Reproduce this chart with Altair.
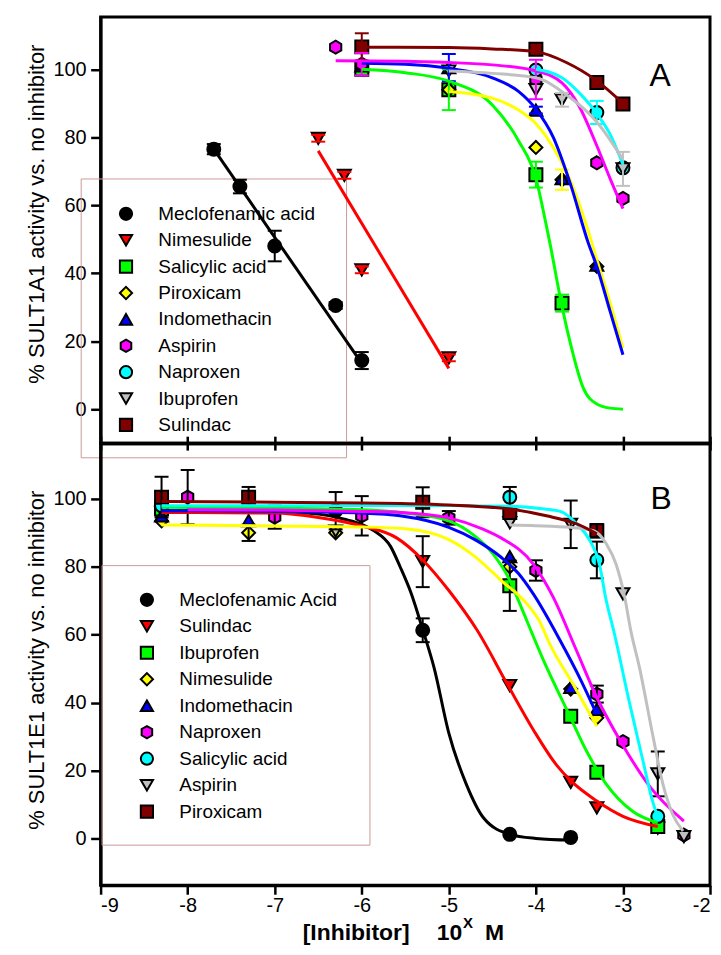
import altair as alt
import pandas as pd

FONT = "Liberation Sans"
HEX = "M0,-1L0.866,-0.5L0.866,0.5L0,1L-0.866,0.5L-0.866,-0.5Z"

colors = ["#000000", "#ff0000", "#00ff00", "#ffff00", "#0000ff",
          "#ff00ff", "#00ffff", "#c0c0c0", "#800000"]
shapes = ["circle", "triangle-down", "square", "diamond", "triangle-up",
          HEX, "circle", "triangle-down", "square"]
keys = ["s0", "s1", "s2", "s3", "s4", "s5", "s6", "s7", "s8"]

top_names = ["Meclofenamic acid", "Nimesulide", "Salicylic acid", "Piroxicam",
             "Indomethacin", "Aspirin", "Naproxen", "Ibuprofen", "Sulindac"]
bot_names = ["Meclofenamic Acid", "Sulindac", "Ibuprofen", "Nimesulide",
             "Indomethacin", "Naproxen", "Salicylic acid", "Aspirin", "Piroxicam"]

x_ticks = [-9, -8, -7, -6, -5, -4, -3, -2]
y_ticks = [0, 20, 40, 60, 80, 100]

# ---------------- Panel A (SULT1A1): measured points ----------------
top_pts = {
    "Meclofenamic acid": ([-7.7, -7.4, -7.0, -6.3, -6.0], [76.5, 65.5, 48.0, 30.5, 14.3], [1.5, 2, 4.5, 1, 2.5]),
    "Nimesulide": ([-6.5, -6.2, -6.0, -5.0], [79.7, 68.8, 41.0, 15.1], [1, 1, 1, 1]),
    "Salicylic acid": ([-6.0, -5.0, -4.0, -3.7], [100, 94, 69, 31.2], [0, 6, 3.8, 2.5]),
    "Piroxicam": ([-5.0, -4.0, -3.7, -3.3], [94, 77, 67.5, 42], [0, 0, 3, 0]),
    "Indomethacin": ([-6.0, -5.0, -4.0, -3.7, -3.3], [101, 100.5, 88, 67.8, 42.4], [0, 4, 1, 0, 0]),
    "Aspirin": ([-6.3, -6.0, -4.0, -3.3, -3.0], [106.5, 101.5, 97, 72.5, 62], [0, 3.3, 5.8, 0, 0]),
    "Naproxen": ([-4.0, -3.3, -3.0], [99.8, 87.3, 71], [0, 3.4, 0]),
    "Ibuprofen": ([-5.0, -4.0, -3.7, -3.0], [99.5, 94, 91, 70.7], [0, 0, 2, 5]),
    "Sulindac": ([-6.0, -4.0, -3.3, -3.0], [106.6, 105.9, 96.1, 89.8], [4, 0, 0, 0]),
}
# fitted curves
top_curves = {
    "Meclofenamic acid": ([-7.7, -6.0], [76.5, 13.5]),
    "Nimesulide": ([-6.5, -5.0], [76, 12]),
    "Salicylic acid": ([-6.0, -5.5, -5.0, -4.5, -4.2, -4.0, -3.88, -3.84, -3.71, -3.61, -3.46, -3.3, -3.15, -3.0],
                       [100, 99, 96.5, 89.5, 79, 68, 54, 49, 31.5, 20, 6.5, 1.5, 0.3, 0]),
    "Piroxicam": ([-5.0, -4.5, -4.2, -4.0, -3.8, -3.6, -3.4, -3.3, -3.15, -3.0],
                  [93.5, 91.5, 88, 84, 77, 67, 52.5, 44, 31.5, 18]),
    "Indomethacin": ([-6.0, -5.5, -5.0, -4.5, -4.2, -4.0, -3.8, -3.6, -3.4, -3.3, -3.15, -3.0],
                     [101.8, 101.5, 100.3, 97.5, 93.5, 88.3, 80, 66, 49, 42, 29, 16]),
    "Aspirin": ([-6.3, -5.5, -5.0, -4.5, -4.0, -3.7, -3.5, -3.3, -3.15, -3.0],
                [102.5, 102.4, 102, 101.3, 99.5, 96, 89, 77.5, 68, 59]),
    "Naproxen": ([-4.0, -3.7, -3.5, -3.3, -3.15, -3.0], [100, 97.5, 93, 87, 81, 72]),
    "Ibuprofen": ([-5.0, -4.5, -4.0, -3.65, -3.3, -3.0], [99.5, 98.8, 97.5, 92.5, 84.5, 73.5]),
    "Sulindac": ([-6.0, -5.0, -4.5, -4.0, -3.65, -3.3, -3.0], [106.5, 106.4, 106, 105.2, 102, 96.6, 90]),
}

# ---------------- Panel B (SULT1E1) ----------------
bot_pts = {
    "Meclofenamic Acid": ([-8.3, -6.3, -5.3, -4.3, -3.6], [96, 96.5, 61.3, 1.2, 0.3], [0, 5.5, 3.5, 0, 0]),
    "Sulindac": ([-8.3, -5.3, -4.3, -3.6, -3.3, -2.6], [96, 81.5, 45, 16.5, 9, 3], [0, 7.5, 0, 0, 0, 0]),
    "Ibuprofen": ([-8.3, -4.3, -3.6, -3.3, -2.6], [97, 74.4, 36, 19.5, 3.5], [0, 7.4, 0, 0, 0]),
    "Nimesulide": ([-8.3, -7.3, -6.3, -4.3, -3.6, -3.3], [93.5, 90, 90, 80, 44, 35.5], [0, 2.4, 0, 0, 0, 0]),
    "Indomethacin": ([-8.3, -7.3, -4.3, -3.6, -3.3], [95, 93.6, 83, 44.5, 38], [0, 0, 0, 0, 0]),
    "Naproxen": ([-8.0, -7.0, -6.0, -5.0, -4.0, -3.3, -3.0, -2.3], [100.5, 94.6, 95, 94.4, 78.9, 42.5, 28.5, 1],
                 [8, 3.4, 5.8, 2, 3, 2.5, 0, 0]),
    "Salicylic acid": ([-8.3, -4.3, -3.3, -2.6], [98, 100.5, 82, 6.5], [0, 3, 5.4, 0]),
    "Aspirin": ([-6.3, -4.3, -3.6, -3.0, -2.6, -2.3], [90.5, 93, 92.5, 72, 19, 0.5], [0, 0, 7, 0, 6.6, 0]),
    "Piroxicam": ([-8.3, -7.3, -5.3, -4.3, -3.3], [100.5, 100.5, 99, 96, 90.6], [6, 3, 4.4, 0, 2]),
}
bot_curves = {
    "Meclofenamic Acid": ([-8.3, -7.0, -6.5, -6.2, -6.0, -5.86, -5.67, -5.56, -5.43, -5.3, -5.17, -5.0, -4.8, -4.6, -4.3, -4.0, -3.6],
                          [96.5, 96.2, 95.5, 94, 92.5, 90.6, 86, 80, 72, 61.5, 50.3, 31, 16, 6, 1.2, 0, -0.5]),
    "Sulindac": ([-8.3, -7.0, -6.5, -6.0, -5.6, -5.3, -5.0, -4.68, -4.32, -4.03, -3.76, -3.6, -3.3, -3.0, -2.6],
                 [96, 95.8, 94.5, 92, 88.5, 82, 73, 61.5, 45, 32, 21.5, 17, 11, 6.5, 3.5]),
    "Ibuprofen": ([-8.3, -7.0, -6.0, -5.5, -5.0, -4.7, -4.5, -4.3, -4.2, -3.91, -3.61, -3.42, -3.19, -2.89, -2.6],
                  [97.5, 97.3, 96.8, 95.8, 93.5, 89, 84, 76, 70, 52.3, 36, 25.8, 15.9, 8, 4.6]),
    "Nimesulide": ([-8.3, -7.0, -6.0, -5.5, -5.0, -4.7, -4.4, -4.1, -3.96, -3.84, -3.55, -3.3],
                   [92.3, 92, 91.7, 91.2, 88, 83, 76, 69, 64, 57.2, 44.4, 33]),
    "Indomethacin": ([-8.3, -7.0, -6.0, -5.56, -5.0, -4.7, -4.4, -4.2, -4.03, -3.72, -3.48, -3.3],
                     [96.5, 96.3, 95.8, 95, 91.6, 88, 82.8, 78, 72, 58.2, 46.4, 36.5]),
    "Naproxen": ([-8.0, -7.0, -6.0, -5.55, -5.0, -4.6, -4.4, -4.03, -3.8, -3.54, -3.3, -3.03, -2.68, -2.3],
                 [96.8, 96.7, 96.3, 96, 94.4, 91, 88.5, 80.8, 71, 55.7, 41.5, 28.7, 14.9, 5.1]),
    "Salicylic acid": ([-8.3, -6.0, -5.0, -4.3, -3.9, -3.72, -3.53, -3.38, -3.27, -3.2, -3.1, -2.93, -2.77, -2.66, -2.6],
                       [98, 98, 98, 97.8, 97, 96.3, 92.6, 87.7, 80.8, 71, 60.5, 40.5, 22.8, 11, 6.3]),
    "Aspirin": ([-4.3, -4.0, -3.6, -3.34, -3.19, -3.08, -2.98, -2.91, -2.81, -2.66, -2.54, -2.43, -2.31],
                [92.3, 92.1, 91.6, 90.6, 86.7, 80.8, 71, 61.2, 50.3, 30.7, 15.9, 7.1, 2.2]),
    "Piroxicam": ([-8.3, -7.0, -6.0, -5.55, -5.0, -4.3, -3.88, -3.53, -3.3],
                  [99.2, 99, 98.8, 98.6, 98.2, 97, 95, 92.6, 89.7]),
}


def to_frames(names, pts, curves):
    p_rows, c_rows, e_rows, cap_rows = [], [], [], []
    for k, n in zip(keys, names):
        xs, ys, es = pts[n]
        for x, y, e in zip(xs, ys, es):
            p_rows.append({"k": k, "x": x, "y": y})
            if e > 0:
                e_rows.append({"k": k, "x": x, "lo": y - e, "hi": y + e})
                cap_rows.append({"k": k, "x": x, "y": y - e})
                cap_rows.append({"k": k, "x": x, "y": y + e})
        cx, cy = curves[n]
        for i, (x, y) in enumerate(zip(cx, cy)):
            c_rows.append({"k": k, "x": x, "y": y, "i": i})
    return (pd.DataFrame(p_rows), pd.DataFrame(c_rows),
            pd.DataFrame(e_rows), pd.DataFrame(cap_rows))


W = 612
TICKLBL = 20
LEG = 19
TITLE = 22
fill_sc = alt.Scale(domain=keys, range=colors)
shape_sc = alt.Scale(domain=keys, range=shapes)


def txt(s, size, x, y, weight="normal", angle=0, align="left", baseline="alphabetic"):
    return alt.Chart(pd.DataFrame({"t": [s]})).mark_text(
        fontSize=size, fontWeight=weight, font=FONT, align=align, baseline=baseline,
        angle=angle, color="black").encode(
        x=alt.value(x), y=alt.value(y), text="t:N")


def panel(names, pts, curves, ydom, height, ytitle, ytitle_y, letter, letter_xy,
          legend_box, legend_sym_x, legend_rows, bar_black, bottom):
    pdf, cdf, edf, capdf = to_frames(names, pts, curves)
    xs = alt.Scale(domain=[-9, -2], nice=False, zero=False)
    ys = alt.Scale(domain=ydom, nice=False, zero=False)

    x_noaxis = alt.X("x:Q", scale=xs, axis=None)
    y_noaxis = alt.Y("y:Q", scale=ys, axis=None)

    if bottom:
        xaxis = alt.Axis(values=x_ticks, title=None, tickSize=9, labelPadding=1,
                         labelExpr="datum.value < 0 ? '-' + abs(datum.value) : '' + datum.value")
    else:
        xaxis = alt.Axis(values=x_ticks, title=None, tickSize=7, labels=False)
    yaxis = alt.Axis(values=y_ticks, title=None, tickSize=10, labelPadding=4.5)

    # legend (drawn underneath the data)
    lg = pd.DataFrame({"k": keys, "name": names, "row": list(range(len(names)))})
    rowsc = alt.Scale(domain=[0, len(names) - 1], range=legend_rows)
    box = alt.Chart(pd.DataFrame({"b": [0]})).mark_rect(
        fillOpacity=0, stroke="#cc9a9a", strokeWidth=1).encode(
        x=alt.value(legend_box[0]), x2=alt.value(legend_box[1]),
        y=alt.value(legend_box[2]), y2=alt.value(legend_box[3]))
    lsym = alt.Chart(lg).mark_point(filled=True, size=150, stroke="black",
                                    strokeWidth=2, opacity=1).encode(
        x=alt.value(legend_sym_x),
        y=alt.Y("row:Q", scale=rowsc, axis=None),
        shape=alt.Shape("k:N", scale=shape_sc, legend=None),
        fill=alt.Fill("k:N", scale=fill_sc, legend=None))
    ltxt = alt.Chart(lg).mark_text(align="left", baseline="middle", fontSize=LEG,
                                   font=FONT, color="black").encode(
        x=alt.value(legend_sym_x + 32.5),
        y=alt.Y("row:Q", scale=rowsc, axis=None),
        text="name:N")

    points = alt.Chart(pdf).mark_point(filled=True, size=170, stroke="black",
                                       strokeWidth=2, opacity=1).encode(
        x=alt.X("x:Q", scale=xs, axis=xaxis),
        y=alt.Y("y:Q", scale=ys, axis=yaxis),
        shape=alt.Shape("k:N", scale=shape_sc, legend=None),
        fill=alt.Fill("k:N", scale=fill_sc, legend=None))

    if bar_black:
        rule_color = alt.value("black")
        cap_color = alt.value("black")
    else:
        rule_color = alt.Color("k:N", scale=fill_sc, legend=None)
        cap_color = alt.Stroke("k:N", scale=fill_sc, legend=None)
    rules = alt.Chart(edf).mark_rule(strokeWidth=2).encode(
        x=x_noaxis, y=alt.Y("lo:Q", scale=ys, axis=None), y2="hi:Q", color=rule_color)
    caps = alt.Chart(capdf).mark_point(shape="stroke", size=196, strokeWidth=2,
                                       opacity=1, filled=False).encode(
        x=x_noaxis, y=y_noaxis, stroke=cap_color)

    lines = alt.Chart(cdf).mark_line(strokeWidth=3, interpolate="monotone").encode(
        x=x_noaxis, y=y_noaxis,
        color=alt.Color("k:N", scale=fill_sc, legend=None),
        order="i:Q")

    let = txt(letter, 32, letter_xy[0], letter_xy[1], align="center", baseline="middle")
    ytl = txt(ytitle, TITLE, -63.5, ytitle_y, angle=270, align="center", baseline="middle")

    layers = [box, lsym, ltxt, points, rules, caps, lines, let, ytl]

    if bottom:
        # upper edge ticks of panel B
        topax = alt.Chart(pd.DataFrame({"x": [-9]})).mark_point(opacity=0).encode(
            x=alt.X("x:Q", scale=xs,
                    axis=alt.Axis(orient="top", values=x_ticks, labels=False,
                                  title=None, tickSize=7)))
        layers.append(topax)
        layers += [
            txt("[Inhibitor]", 23, 203, 498.5, weight="bold"),
            txt("10", 23, 337.5, 498.5, weight="bold"),
            txt("X", 15, 364, 487, weight="bold"),
            txt("M", 23, 386, 498.5, weight="bold"),
        ]

    ch = alt.layer(*layers).resolve_scale(y="independent").resolve_axis(x="independent")
    return ch.properties(width=W, height=height)


top = panel(top_names, top_pts, top_curves, [-10, 115.4], 428,
            "% SULT1A1 activity vs. no inhibitor", 198, "A", (562, 59),
            (-19.5, 247, 162.7, 442.7), 25.5,
            [197.7, 197.7 + 26.5 * 8], bar_black=False, bottom=False)
bot = panel(bot_names, bot_pts, bot_curves, [-13.8, 116.4], 444,
            "% SULT1E1 activity vs. no inhibitor", 218, "B", (563, 56),
            (1.5, 270.5, 123, 403.7), 46.5,
            [157.3, 157.3 + 26.6 * 8], bar_black=True, bottom=True)

chart = alt.vconcat(top, bot, spacing=0, bounds="flush").properties(
    padding={"left": 16, "top": 5, "right": 0, "bottom": 0},
    background="white"
).configure_view(stroke="black", strokeWidth=3).configure_axis(
    grid=False, domainColor="black", domainWidth=3, tickColor="black", tickWidth=2.5,
    labelFont=FONT, labelFontSize=TICKLBL, labelColor="black",
    titleFont=FONT, titleFontSize=TITLE, titleFontWeight="normal", titleColor="black"
)

chart.save("out.html", embed_options={"renderer": "svg", "actions": False})
